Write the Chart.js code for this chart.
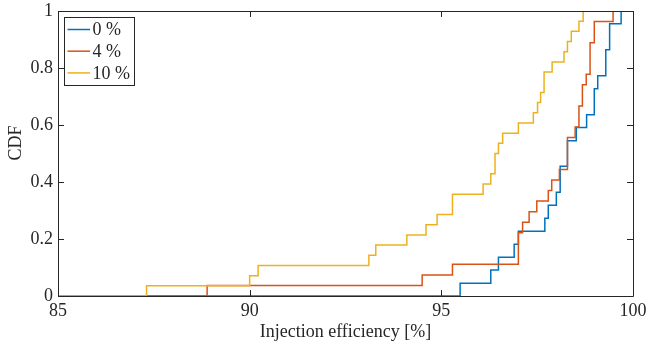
<!DOCTYPE html>
<html>
<head>
<meta charset="utf-8">
<script src="https://cdn.jsdelivr.net/npm/chart.js@4.4.1/dist/chart.umd.min.js"></script>
<style>
  html, body { margin: 0; padding: 0; background: #fff; }
  #wrap { width: 647px; height: 350px; position: relative; }
</style>
</head>
<body>
<div id="wrap"><canvas id="c"></canvas></div>
<script>
const seriesNames = ['0 %', '4 %', '10 %'];

const xBlue   = [85, 95.49, 96.29, 96.49, 96.90, 97.01, 97.70, 97.79, 98.00, 98.10, 98.29, 98.52, 98.79, 98.99, 99.08, 99.29, 99.39, 99.69, 100];
const cdfBlue = [0, 0.045, 0.091, 0.136, 0.182, 0.227, 0.273, 0.318, 0.364, 0.455, 0.545, 0.591, 0.636, 0.727, 0.773, 0.864, 0.955, 1, 1];

const xRed   = [85, 88.89, 94.50, 95.29, 97.01, 97.12, 97.29, 97.49, 97.79, 97.88, 98.08, 98.29, 98.49, 98.59, 98.68, 98.78, 98.88, 98.99, 99.48, 100];
const cdfRed = [0, 0.037, 0.074, 0.111, 0.222, 0.259, 0.296, 0.333, 0.370, 0.407, 0.444, 0.556, 0.593, 0.667, 0.741, 0.778, 0.889, 0.963, 1, 1];

const xYellow   = [85, 87.31, 90.00, 90.22, 93.11, 93.29, 94.10, 94.60, 94.89, 95.29, 96.09, 96.29, 96.40, 96.49, 96.60, 97.01, 97.40, 97.51, 97.59, 97.68, 97.89, 98.20, 98.29, 98.39, 98.59, 98.70, 100];
const cdfYellow = [0, 0.036, 0.071, 0.107, 0.143, 0.179, 0.214, 0.250, 0.286, 0.357, 0.393, 0.429, 0.500, 0.536, 0.571, 0.607, 0.643, 0.679, 0.714, 0.786, 0.821, 0.857, 0.893, 0.929, 0.964, 1, 1];

const xTicks = [85, 90, 95, 100];
const xTickLabels = ['85', '90', '95', '100'];
const yTicks = [0, 0.2, 0.4, 0.6, 0.8, 1];
const yTickLabels = ['0', '0.2', '0.4', '0.6', '0.8', '1'];
const xTitle = 'Injection efficiency [%]';
const yTitle = 'CDF';

const colors = ['#0072BD', '#D95319', '#EDB120'];
const FONT = '"Liberation Serif", "Times New Roman", serif';
const FS = 18;
const INK = '#262626';

function pts(xs, ys) { return xs.map((x, i) => ({ x: x, y: ys[i] })); }

const datasets = [
  { label: seriesNames[0], data: pts(xBlue, cdfBlue), borderColor: colors[0], order: 3 },
  { label: seriesNames[1], data: pts(xRed, cdfRed), borderColor: colors[1], order: 2 },
  { label: seriesNames[2], data: pts(xYellow, cdfYellow), borderColor: colors[2], order: 1 }
].map(d => Object.assign(d, {
  stepped: 'before', borderWidth: 1.5, pointRadius: 0, fill: false,
  backgroundColor: d.borderColor, tension: 0
}));

// box, inward ticks on all sides, y title and legend inside the axes
const framePlugin = {
  id: 'frame',
  afterDraw(chart) {
    const ctx = chart.ctx;
    const a = chart.chartArea;
    const xs = chart.scales.x, ys = chart.scales.y;
    const L = 6;
    ctx.save();
    ctx.strokeStyle = INK;
    ctx.lineWidth = 1;
    ctx.beginPath();
    ctx.rect(Math.round(a.left) + 0.5, Math.round(a.top) + 0.5,
             Math.round(a.right - a.left), Math.round(a.bottom - a.top));
    ctx.stroke();
    ctx.beginPath();
    xTicks.forEach(v => {
      const px = Math.round(xs.getPixelForValue(v)) + 0.5;
      ctx.moveTo(px, a.bottom); ctx.lineTo(px, a.bottom - L);
      ctx.moveTo(px, a.top); ctx.lineTo(px, a.top + L);
    });
    yTicks.forEach(v => {
      const py = Math.round(ys.getPixelForValue(v)) + 0.5;
      ctx.moveTo(a.left, py); ctx.lineTo(a.left + L, py);
      ctx.moveTo(a.right, py); ctx.lineTo(a.right - L, py);
    });
    ctx.stroke();

    // y-axis title
    ctx.save();
    ctx.translate(16, 143);
    ctx.rotate(-Math.PI / 2);
    ctx.font = FS + 'px ' + FONT;
    ctx.fillStyle = INK;
    ctx.textAlign = 'center';
    ctx.textBaseline = 'middle';
    ctx.fillText(yTitle, 0, 0);
    ctx.restore();

    // legend
    const bx = a.left + 6.5, by = a.top + 6.5, bw = 70, bh = 68;
    ctx.fillStyle = '#fff';
    ctx.fillRect(bx, by, bw, bh);
    ctx.strokeStyle = INK;
    ctx.lineWidth = 1;
    ctx.strokeRect(bx, by, bw, bh);
    ctx.font = FS + 'px ' + FONT;
    ctx.textBaseline = 'middle';
    ctx.textAlign = 'left';
    seriesNames.forEach((name, i) => {
      const y = by + 12 + i * 21.7;
      ctx.strokeStyle = colors[i];
      ctx.lineWidth = 1.5;
      ctx.beginPath();
      ctx.moveTo(bx + 3, y); ctx.lineTo(bx + 25.5, y);
      ctx.stroke();
      ctx.fillStyle = INK;
      ctx.fillText(name, bx + 28, y + 1);
    });
    ctx.restore();
  }
};

new Chart(document.getElementById('c'), {
  type: 'line',
  data: { datasets: datasets },
  plugins: [framePlugin],
  options: {
    responsive: true,
    maintainAspectRatio: false,
    animation: false,
    layout: { padding: { left: 0, right: 14, top: 11, bottom: 0 } },
    plugins: { legend: { display: false }, tooltip: { enabled: false } },
    scales: {
      x: {
        type: 'linear', min: 85, max: 100,
        afterBuildTicks: s => { s.ticks = xTicks.map(v => ({ value: v })); },
        afterFit: s => { s.height = 54; s.paddingLeft = 0; s.paddingRight = 0; },
        grid: { display: false, drawTicks: false },
        border: { display: false },
        ticks: { color: INK, padding: 4, font: { family: FONT, size: FS }, maxRotation: 0,
                 callback: (v) => xTickLabels[xTicks.indexOf(v)] },
        title: { display: true, text: xTitle, color: INK, font: { family: FONT, size: FS }, padding: { top: 0, bottom: 7 } }
      },
      y: {
        type: 'linear', min: 0, max: 1,
        afterBuildTicks: s => { s.ticks = yTicks.map(v => ({ value: v })); },
        afterFit: s => { s.width = 58; s.paddingTop = 0; s.paddingBottom = 0; },
        grid: { display: false, drawTicks: false },
        border: { display: false },
        ticks: { color: INK, padding: 5, font: { family: FONT, size: FS },
                 callback: (v) => yTickLabels[yTicks.indexOf(v)] },
        title: { display: false }
      }
    }
  }
});
</script>
</body>
</html>
